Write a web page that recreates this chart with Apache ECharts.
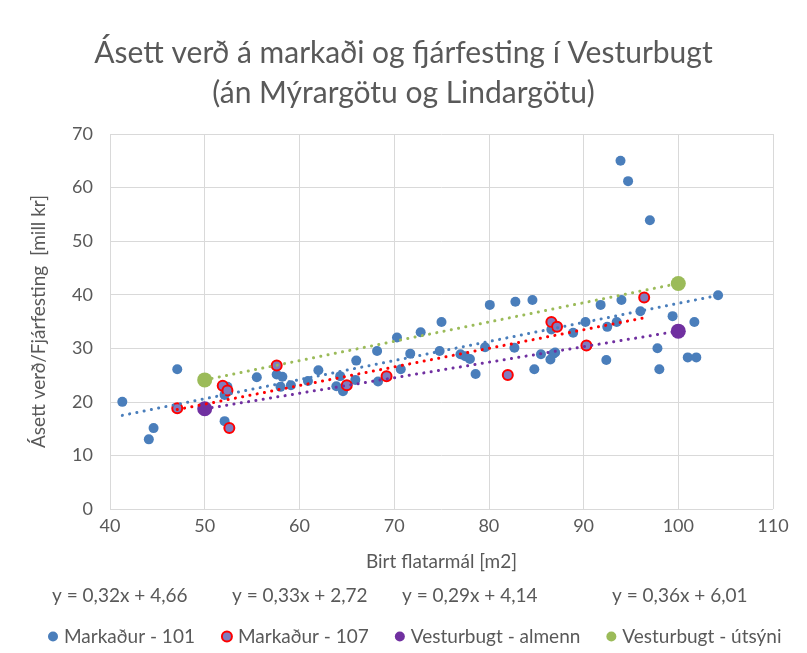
<!DOCTYPE html>
<html>
<head>
<meta charset="utf-8">
<script src="https://cdn.jsdelivr.net/npm/echarts@6/dist/echarts.min.js"></script>
<style>
  html, body { margin: 0; padding: 0; background: #fff; }
  #chart-container { width: 807px; height: 653px; }
</style>
</head>
<body>
<div id="chart-container"></div>
<script>
var dom = document.getElementById("chart-container");
var myChart = echarts.init(dom, null, { renderer: "canvas" });

// Markaður - 101 [m2, mill kr]
var markadur101 = [
  [41.3, 20.0], [44.1, 13.0], [44.6, 15.1], [47.1, 26.1], [52.1, 16.4],
  [52.1, 21.3], [52.4, 22.8], [55.5, 24.6], [57.6, 25.1], [58.0, 22.8],
  [58.2, 24.7], [59.1, 23.1], [60.9, 23.9], [62.0, 25.9], [63.9, 22.9],
  [64.3, 24.8], [64.6, 22.0], [65.9, 24.1], [66.0, 27.7], [68.2, 29.5],
  [68.3, 23.8], [70.3, 32.0], [70.7, 26.1], [71.7, 29.0], [72.8, 33.0],
  [74.8, 29.5], [75.0, 34.9], [77.0, 28.9], [77.5, 28.5], [78.0, 28.0],
  [78.6, 25.2], [79.6, 30.2], [80.1, 38.1], [82.7, 30.1], [82.8, 38.7],
  [84.6, 39.0], [84.8, 26.1], [85.5, 28.9], [86.5, 27.9], [86.6, 33.5],
  [86.8, 29.0], [87.0, 29.2], [88.9, 32.9], [90.2, 34.9], [91.8, 38.1],
  [92.4, 27.8], [92.5, 34.0], [93.5, 34.9], [93.9, 65.0], [94.0, 39.0],
  [94.7, 61.2], [96.0, 36.9], [97.0, 53.9], [97.8, 30.0], [98.0, 26.1],
  [99.4, 36.0], [101.0, 28.3], [101.7, 34.9], [101.9, 28.3], [104.2, 39.9]
];

// Markaður - 107
var markadur107 = [
  [47.1, 18.8], [51.9, 23.0], [52.4, 22.1], [52.6, 15.1], [57.6, 26.8],
  [65.0, 23.1], [69.2, 24.8], [82.0, 25.0], [86.6, 34.9], [87.2, 34.0],
  [90.3, 30.5], [96.4, 39.5]
];

var vesturbugtAlmenn = [[50, 18.7], [100, 33.2]];
var vesturbugtUtsyni = [[50, 24.1], [100, 42.1]];

var equations = ["y = 0,32x + 4,66", "y = 0,33x + 2,72", "y = 0,29x + 4,14", "y = 0,36x + 6,01"];

var textColor = "#595959";
var fontFamily = "Lato, 'Open Sans', sans-serif";

// least squares line between min x and max x
function trend(points) {
  var n = points.length, sx = 0, sy = 0, sxx = 0, sxy = 0;
  var minX = Infinity, maxX = -Infinity;
  points.forEach(function (p) {
    sx += p[0]; sy += p[1]; sxx += p[0] * p[0]; sxy += p[0] * p[1];
    minX = Math.min(minX, p[0]); maxX = Math.max(maxX, p[0]);
  });
  var b = (n * sxy - sx * sy) / (n * sxx - sx * sx);
  var a = (sy - b * sx) / n;
  return [[minX, a + b * minX], [maxX, a + b * maxX]];
}

function trendSeries(points, color) {
  return {
    type: "line",
    data: trend(points),
    symbol: "none",
    silent: true,
    z: 5,
    lineStyle: { color: color, width: 3, type: [0.1, 7.3], cap: "round" }
  };
}

var option = {
  animation: false,
  title: {
    text: "Ásett verð á markaði og fjárfesting í Vesturbugt\n(án Mýrargötu og Lindargötu)",
    left: "center",
    top: 28,
    textStyle: {
      fontFamily: fontFamily,
      fontSize: 30,
      fontWeight: "normal",
      color: textColor,
      lineHeight: 40
    }
  },
  grid: { left: 110, right: 34, top: 134, bottom: 144 },
  xAxis: {
    type: "value",
    min: 40,
    max: 110,
    interval: 10,
    name: "Birt flatarmál [m2]",
    nameLocation: "middle",
    nameGap: 43,
    nameTextStyle: { fontFamily: fontFamily, fontSize: 19, color: textColor },
    axisLine: { show: false },
    axisTick: { show: false },
    axisLabel: { fontFamily: fontFamily, fontSize: 18, color: textColor, margin: 8 },
    splitLine: { show: true, lineStyle: { color: "#d9d9d9", width: 1 } }
  },
  yAxis: {
    type: "value",
    min: 0,
    max: 70,
    interval: 10,
    name: "Ásett verð/Fjárfesting  [mill kr]",
    nameLocation: "middle",
    nameGap: 62,
    nameTextStyle: { fontFamily: fontFamily, fontSize: 19, color: textColor },
    axisLine: { show: false },
    axisTick: { show: false },
    axisLabel: { fontFamily: fontFamily, fontSize: 18, color: textColor, margin: 17 },
    splitLine: { show: true, lineStyle: { color: "#d9d9d9", width: 1 } }
  },
  legend: {
    data: ["Markaður - 101", "Markaður - 107", "Vesturbugt - almenn", "Vesturbugt - útsýni"],
    top: 622,
    left: 43,
    icon: "circle",
    itemWidth: 10,
    itemHeight: 10,
    itemGap: 26,
    textStyle: { fontFamily: fontFamily, fontSize: 19, color: textColor, padding: [0, 0, 0, 1] }
  },
  graphic: equations.map(function (eq, i) {
    var xs = [52, 232, 402, 612];
    return {
      type: "text",
      left: xs[i],
      top: 586,
      style: { text: eq, fontFamily: fontFamily, fontSize: 19, fill: textColor }
    };
  }),
  series: [
    {
      name: "Markaður - 101",
      type: "scatter",
      data: markadur101,
      symbolSize: 10,
      itemStyle: { color: "#4A7EBB", opacity: 1 }
    },
    {
      name: "Markaður - 107",
      type: "scatter",
      data: markadur107,
      symbolSize: 10,
      itemStyle: { color: "#7F7DBF", borderColor: "#FF0000", borderWidth: 2, opacity: 1 }
    },
    {
      name: "Vesturbugt - almenn",
      type: "scatter",
      data: vesturbugtAlmenn,
      symbolSize: 15,
      itemStyle: { color: "#7030A0", opacity: 1 }
    },
    {
      name: "Vesturbugt - útsýni",
      type: "scatter",
      data: vesturbugtUtsyni,
      symbolSize: 15,
      itemStyle: { color: "#9BBB59", opacity: 1 }
    },
    trendSeries(markadur101, "#4A7EBB"),
    trendSeries(markadur107, "#FF0000"),
    trendSeries(vesturbugtAlmenn, "#7030A0"),
    trendSeries(vesturbugtUtsyni, "#9BBB59")
  ]
};

myChart.setOption(option);
window.addEventListener("resize", myChart.resize);
</script>
</body>
</html>
